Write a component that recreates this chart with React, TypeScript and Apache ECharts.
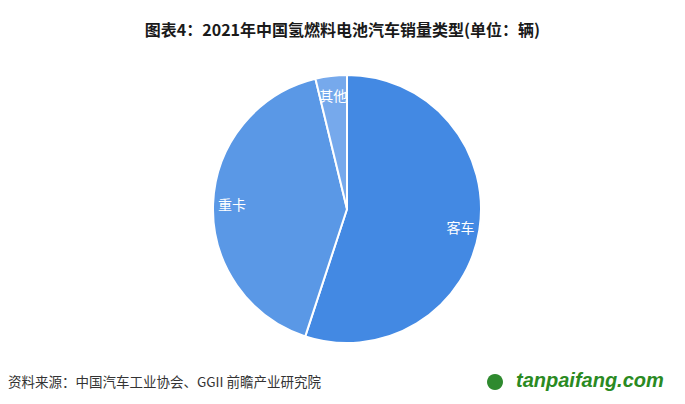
import React, { useEffect, useRef } from "react";
import * as echarts from "echarts";

const categories = ["客车", "重卡", "其他"];
const salesValues = [873, 653, 60];
const sliceColors = ["#4389E3", "#5A98E6", "#76A9EC"];

const titleText = "图表4：2021年中国氢燃料电池汽车销量类型(单位：辆)";
const sourceText = "资料来源：中国汽车工业协会、GGII 前瞻产业研究院";

export default function App() {
  const ref = useRef<HTMLDivElement>(null);
  useEffect(() => {
    if (!ref.current) return;
    const chart = echarts.init(ref.current, null, { renderer: "svg" });
    const data = categories.map((name, i) => ({
      name,
      value: salesValues[i],
      itemStyle: { color: sliceColors[i] },
    }));
    chart.setOption({
      animation: false,
      backgroundColor: "#ffffff",
      title: {
        text: titleText,
        left: "center",
        top: 8,
        textStyle: {
          fontSize: 16,
          fontWeight: "bold",
          color: "#1a1a1a",
          fontFamily: "Noto Sans CJK SC, sans-serif",
        },
      },
      graphic: [
        {
          type: "text",
          left: 0,
          top: 366,
          style: {
            text: sourceText,
            fontSize: 13.5,
            fill: "#333",
            fontFamily: "Noto Sans CJK SC, sans-serif",
          },
        },
        {
          type: "circle",
          shape: { cx: 487, cy: 374, r: 8 },
          style: { fill: "#2f8a2f" },
        },
        {
          type: "text",
          left: 508,
          top: 362,
          style: {
            text: "tanpaifang.com",
            fontSize: 20,
            fontWeight: "bold",
            fontStyle: "italic",
            fill: "#2a8a22",
            fontFamily: "Liberation Sans, Arial, sans-serif",
          },
        },
      ],
      series: [
        {
          type: "pie",
          center: [339, 201],
          radius: [0, 134],
          startAngle: 90,
          clockwise: true,
          data,
          label: { show: false },
          labelLine: { show: false },
          itemStyle: { borderColor: "#ffffff", borderWidth: 2 },
          emphasis: { disabled: true },
        },
        {
          type: "pie",
          center: [339, 201],
          radius: [90, 134],
          startAngle: 90,
          clockwise: true,
          silent: true,
          data: categories.map((name, i) => ({ name, value: salesValues[i] })),
          itemStyle: { color: "rgba(0,0,0,0)" },
          label: {
            show: true,
            position: "inside",
            color: "#ffffff",
            fontSize: 14,
            fontFamily: "Noto Sans CJK SC, sans-serif",
            formatter: "{b}",
          },
          labelLine: { show: false },
          emphasis: { disabled: true },
        },
      ],
    });
    return () => chart.dispose();
  }, []);
  return <div ref={ref} style={{ width: 669, height: 388 }} />;
}
